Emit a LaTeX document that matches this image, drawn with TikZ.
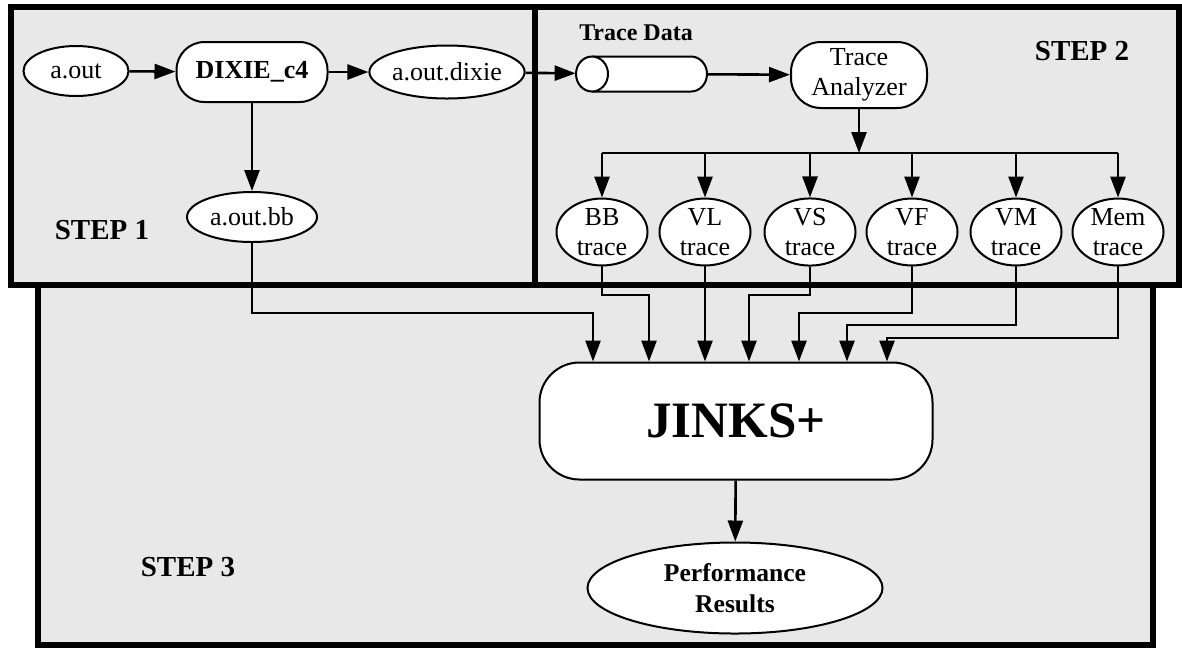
\documentclass[tikz,border=0pt]{standalone}
\usepackage{fontspec}
\setmainfont{Liberation Serif}
\usetikzlibrary{arrows.meta,shapes.geometric}

\tikzset{
  stepbox/.style={line width=3pt, fill=gray!18},
  steplabel/.style={font=\fontsize{14.5}{16}\selectfont\bfseries},
  file/.style={ellipse, draw, line width=1pt, fill=white, inner sep=0pt, align=center,
    font=\fontsize{13}{15}\selectfont},
  tool/.style={rectangle, rounded corners=14pt, draw, line width=1pt, fill=white, inner sep=0pt,
    align=center, font=\fontsize{13}{15}\selectfont},
  conn/.style={line width=1.3pt},
  arr/.style={conn, -{Triangle[length=10.5pt,width=7.5pt]}}
}

\begin{document}
\begin{tikzpicture}[x=0.5pt, y=-0.5pt]
		%%%%% START %%%%%
		\useasboundingbox (0,0) rectangle (1182,650);
		
		% the three steps
		\draw[stepbox] (38,285) rectangle (1153,645);
		\draw[stepbox] (11,7) rectangle (535,285);
		\draw[stepbox] (535,7) rectangle (1179,285);
		
		\node[steplabel] at (102,230) {STEP 1};
		\node[steplabel] at (1082,51) {STEP 2};
		\node[steplabel] at (188,567) {STEP 3};
		
		% step 1
		\node[file, minimum width=52.5pt, minimum height=25pt] (aout) at (76,71) {a.out};
		\node[tool, minimum width=75.5pt, minimum height=30pt, font=\fontsize{13}{15}\selectfont\bfseries] (dixie) at (252,72) {DIXIE\_c4};
		\node[file, minimum width=66.5pt, minimum height=26.5pt] (aoutdixie) at (447,72) {a.out.dixie};
		\node[file, minimum width=65pt, minimum height=25pt] (aoutbb) at (252,217) {a.out.bb};
		
		\draw[arr] (aout) -- (dixie);
		\draw[arr] (dixie) -- (aoutdixie);
		\draw[arr] (dixie) -- (aoutbb);
		
		% step 2
		\draw[line width=1pt, fill=white] (592,56.5) -- (691,56.5) arc (-90:90:16 and 17.5) -- (592,91.5);
		\draw[line width=1pt, fill=white] (592,74) ellipse (16 and 17.5);
		\node[minimum width=65.5pt, minimum height=17.5pt, inner sep=0pt] (tracedata) at (641.5,74) {};
		\node[font=\fontsize{12}{14}\selectfont\bfseries] (tracelabel) at (636,33) {Trace Data};
		\node[tool, rounded corners=15pt, minimum width=68pt, minimum height=33pt] (analyzer) at (859,75) {Trace\\Analyzer};
		
		\draw[arr] (aoutdixie) -- (tracedata);
		\draw[arr] (tracedata) -- (analyzer);
		
		\foreach \name/\txt/\xx in {bb/BB/602, vl/VL/705, vs/VS/810, vf/VF/912, vm/VM/1016, mem/Mem/1118}
		  \node[file, minimum width=45.5pt, minimum height=31.5pt] (\name) at (\xx,232) {\txt\\trace};
		
		\coordinate (bus) at (analyzer.south |- 0,153);
		\draw[arr] (analyzer) -- (bus);
		\draw[conn] (bus -| bb) -- (bus -| mem);
		\foreach \name in {bb, vl, vs, vf, vm, mem}
		  \draw[arr] (bus -| \name) -- (\name);
		
		% step 3
		\node[tool, rounded corners=20pt, minimum width=196.5pt, minimum height=58.5pt,
		  font=\fontsize{25.5}{28}\selectfont\bfseries] (jinks) at (736,421) {JINKS+};
		\node[file, minimum width=147.5pt, minimum height=45.5pt, font=\fontsize{12.8}{15.5}\selectfont\bfseries] (perf) at (735,588) {Performance\\Results};
		
		\foreach \name/\yy/\xx in {aoutbb/313/593, bb/295/649, vl/295/705, vs/295/749, vf/313/799, vm/325/847, mem/338/887}
		  \draw[arr] (\name) |- (\xx,\yy) -- (jinks.north -| \xx,0);
		\draw[arr] (jinks) -- (perf);
		
		%%%%% END %%%%%
	\end{tikzpicture}
\end{document}
